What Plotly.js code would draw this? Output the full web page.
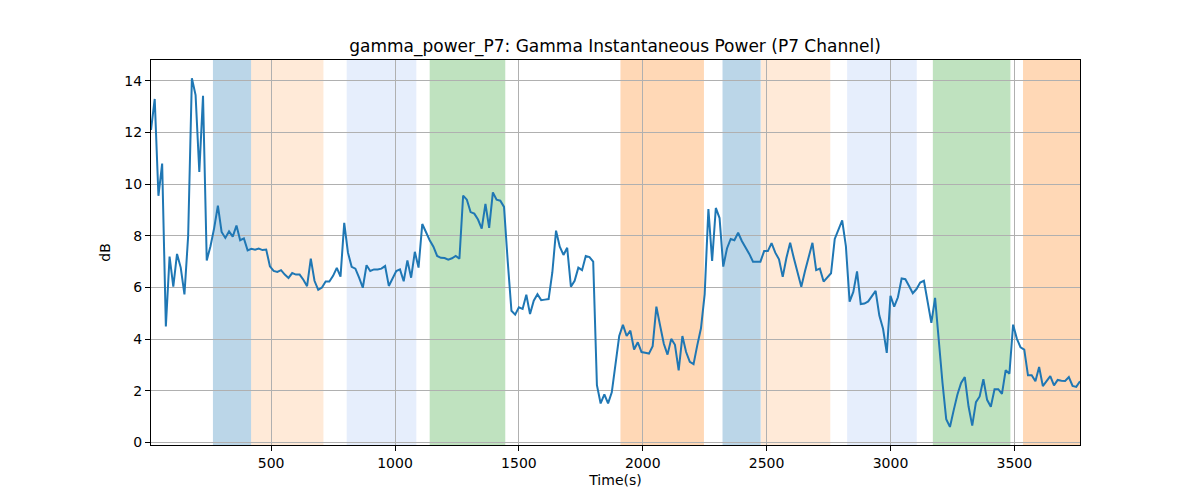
<!DOCTYPE html>
<html>
<head>
<meta charset="utf-8">
<script src="https://cdn.plot.ly/plotly-3.0.1.min.js"></script>
<style>
   body { margin: 0; background: #fff; }
   #canvas { width: 1200px; height: 500px; }
</style>
</head>
<body>
<div id="canvas"></div>
<script>

// samples every 15 s starting at t = 15 s
const t0 = 15;
const dt = 15;

const gammaPower = [
   12.1, 13.3, 9.55, 10.8, 4.49, 7.2, 6.03, 7.3, 6.77, 5.73,
   8.0, 14.1, 13.45, 10.47, 13.42, 7.05, 7.6, 8.3, 9.17, 8.15,
   7.92, 8.17, 7.97, 8.4, 7.83, 7.9, 7.44, 7.5, 7.46, 7.51,
   7.45, 7.47, 6.82, 6.64, 6.6, 6.67, 6.5, 6.37, 6.56, 6.5,
   6.5, 6.3, 6.05, 7.12, 6.26, 5.91, 6.0, 6.23, 6.23, 6.45,
   6.76, 6.42, 8.5, 7.35, 6.8, 6.73, 6.38, 5.99, 6.86, 6.64,
   6.7, 6.7, 6.73, 6.83, 6.06, 6.38, 6.64, 6.7, 6.24, 7.05,
   6.38, 7.38, 6.77, 8.46, 8.12, 7.83, 7.58, 7.22, 7.15, 7.14,
   7.08, 7.13, 7.22, 7.12, 9.56, 9.4, 8.92, 8.86, 8.63, 8.28,
   9.24, 8.31, 9.68, 9.4, 9.36, 9.12, 7.0, 5.1, 4.95, 5.23,
   5.17, 5.72, 4.97, 5.49, 5.74, 5.51, 5.53, 5.55, 6.58, 8.2,
   7.58, 7.26, 7.54, 6.03, 6.26, 6.77, 6.67, 7.22, 7.18, 7.0,
   2.22, 1.51, 1.86, 1.51, 1.94, 3.12, 4.12, 4.55, 4.12, 4.33,
   3.6, 3.88, 3.5, 3.47, 3.44, 3.73, 5.26, 4.53, 3.82, 3.4,
   4.01, 3.78, 2.79, 4.12, 3.5, 3.12, 3.03, 3.76, 4.42, 5.74,
   9.04, 7.03, 9.08, 8.69, 6.81, 7.51, 7.88, 7.83, 8.12, 7.8,
   7.57, 7.3, 7.0, 7.0, 7.0, 7.41, 7.41, 7.72, 7.35, 7.09,
   6.41, 7.15, 7.73, 7.13, 6.62, 6.03, 6.64, 7.19, 7.73, 6.67,
   6.73, 6.23, 6.41, 6.55, 7.88, 8.24, 8.6, 7.6, 5.45, 5.83,
   6.62, 5.36, 5.38, 5.46, 5.68, 5.87, 4.91, 4.4, 3.47, 5.68,
   5.26, 5.62, 6.35, 6.32, 6.06, 5.78, 5.94, 6.19, 6.26, 5.42,
   4.63, 5.6, 3.9, 2.3, 0.9, 0.6, 1.24, 1.85, 2.3, 2.53,
   1.4, 0.65, 1.56, 1.78, 2.45, 1.65, 1.38, 2.06, 2.06, 1.88,
   2.8, 2.66, 4.56, 4.02, 3.68, 3.59, 2.6, 2.6, 2.37, 2.92,
   2.18, 2.39, 2.57, 2.21, 2.42, 2.39, 2.38, 2.53, 2.19, 2.15,
   2.37
];

// shaded task blocks (seconds)
const blockStart = [265, 419, 805, 1140, 1910, 2322, 2477, 2825, 3171, 3535];
const blockEnd   = [419, 711, 1086, 1445, 2247, 2476, 2757, 3106, 3484, 3800];
const blockKind  = ['blue', 'peach', 'lav', 'green', 'orange', 'blue', 'peach', 'lav', 'green', 'orange'];

const xTicks = [500, 1000, 1500, 2000, 2500, 3000, 3500];
const yTicks = [0, 2, 4, 6, 8, 10, 12, 14];

const blockFill = {
   blue:   'rgba(31,119,180,0.3)',
   peach:  'rgba(255,127,14,0.16)',
   lav:    'rgba(100,149,237,0.16)',
   green:  'rgba(44,160,44,0.3)',
   orange: 'rgba(255,127,14,0.3)',
};

const tEnd = t0 + dt * (gammaPower.length - 1);

const shapes = blockStart.map((s, i) => ({
   type: 'rect',
   xref: 'x', yref: 'paper',
   x0: s, x1: blockEnd[i],
   y0: 0, y1: 1,
   fillcolor: blockFill[blockKind[i]],
   line: { width: 0 },
   layer: 'below'
}));

const trace = {
   type: 'scatter',
   mode: 'lines',
   x0: t0,
   dx: dt,
   y: gammaPower,
   line: { color: '#1f77b4', width: 2 },
   hoverinfo: 'x+y'
};

const axisCommon = {
   showline: true,
   mirror: true,
   linecolor: '#000',
   linewidth: 1,
   ticks: 'outside',
   ticklen: 5,
   tickcolor: '#000',
   showgrid: true,
   gridcolor: '#b0b0b0',
   gridwidth: 1,
   zeroline: false,
   tickfont: { size: 14, color: '#000' },
   automargin: false
};

const layout = {
   width: 1200,
   height: 500,
   margin: { l: 151, r: 120, t: 60, b: 55 },
   paper_bgcolor: '#fff',
   plot_bgcolor: 'rgba(0,0,0,0)',
   font: { family: 'DejaVu Sans, sans-serif', color: '#000' },
   showlegend: false,
   title: {
      text: 'gamma_power_P7: Gamma Instantaneous Power (P7 Channel)',
      font: { size: 17 },
      x: 0.5125, xanchor: 'center',
      y: 0.908, yanchor: 'middle'
   },
   xaxis: {
      ...axisCommon,
      range: [t0, tEnd],
      tickvals: xTicks,
      title: { text: 'Time(s)', font: { size: 14 }, standoff: 5 }
   },
   yaxis: {
      ...axisCommon,
      range: [-0.1, 14.81],
      tickvals: yTicks,
      title: { text: 'dB', font: { size: 14 }, standoff: 10 }
   },
   shapes: shapes
};

Plotly.newPlot('canvas', [trace], layout, { displayModeBar: false, staticPlot: true });

</script>
</body>
</html>
